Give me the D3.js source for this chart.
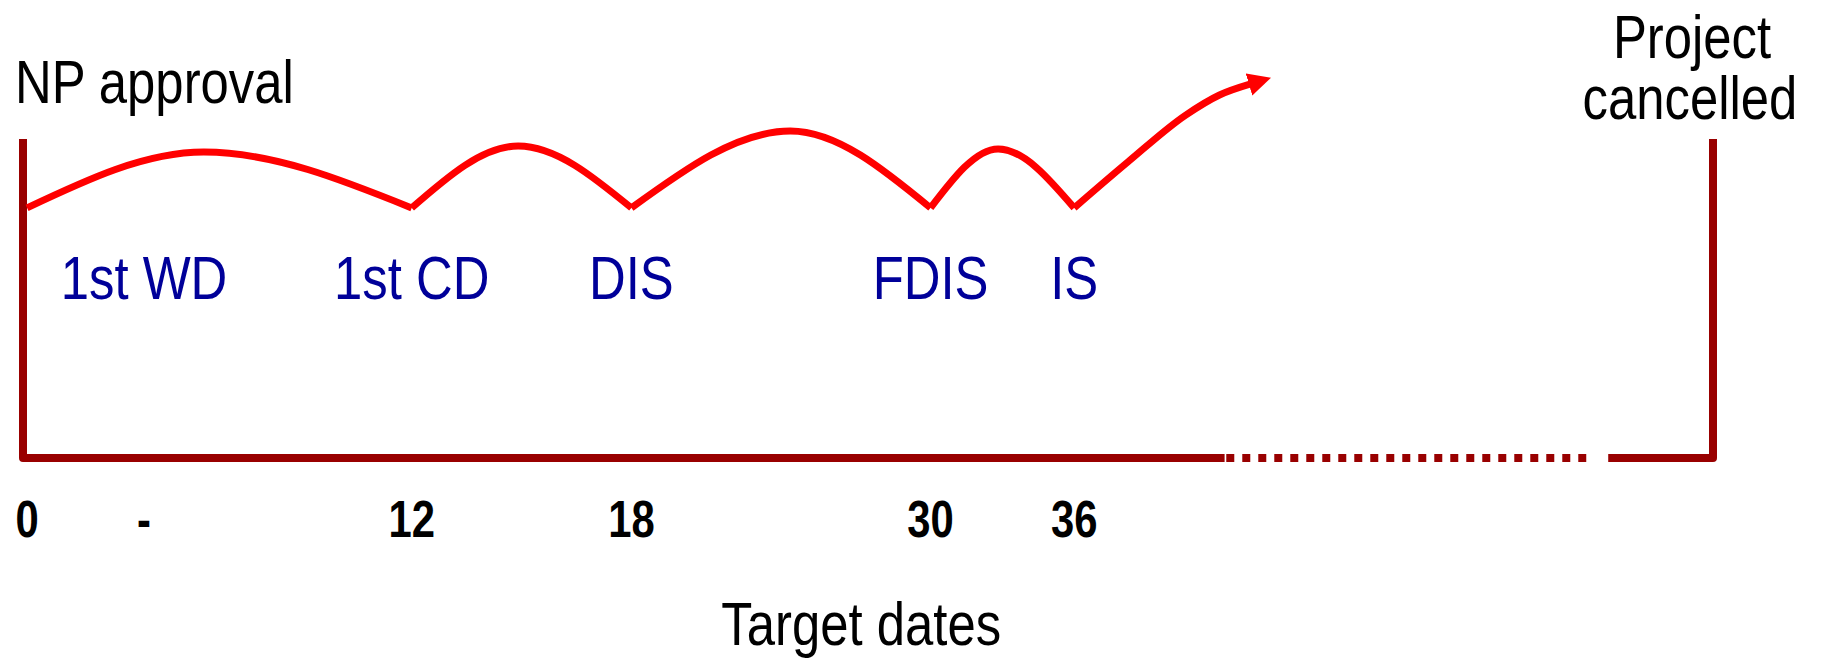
<!DOCTYPE html>
<html>
<head>
<meta charset="utf-8">
<script src="https://cdn.jsdelivr.net/npm/d3@7/dist/d3.min.js"></script>
<style>
    body { margin: 0; background: #fff; }
    text { font-family: "Liberation Sans", Arial, sans-serif; }
</style>
</head>
<body>
<div id="view"></div>
<script>
// milestones along the time line, position in % of the frame width
var tickLabels   = ["0", "-", "12", "18", "30", "36"];
var stageLabels  = ["", "1st WD", "1st CD", "DIS", "FDIS", "IS"];
var milestonePos = [0.24, 7.16, 23.0, 36.0, 53.7, 62.2];

// the wavy path: it drops back to the trough level at each stage
var troughLevel = 78.4;
var troughIdx   = [0, 2, 3, 4, 5];          // milestones where the path touches down
var peakPos     = [10.7, 29.3, 45.4, 57.7];
var peakLevel   = [95.9, 97.8, 102.5, 96.9];

// the open end after IS, heading off to the arrow
var tailPos   = [62.2, 65.4, 68.8, 70.8, 72.6];
var tailLevel = [78.4, 92.9, 107.5, 113.8, 117.2];

// bottom line: solid, dotted, gap, solid
var solidEnd = 71.1, dotStart = 71.2, dotEnd = 92.5, solidStart = 93.8;

var svgwidth = 1821, svgheight = 659;
var frameColor = "#990000", pathColor = "#ff0000", stageColor = "#000099";
var narrow = 0.82;   // no Arial Narrow here, so squeeze Liberation Sans

var svg = d3.select("#view")
    .append("svg")
    .attr("width", svgwidth)
    .attr("height", svgheight);

var x = d3.scaleLinear().domain([0, 100]).range([23, 1713]);
var y = d3.scaleLinear().domain([0, 100]).range([458, 139]);

var line = d3.line()
    .x(function(d) { return x(d[0]); })
    .y(function(d) { return y(d[1]); });

function place(px, py) {
    return "translate(" + px + "," + py + ") scale(" + narrow + ",1)";
}

// frame
svg.append("path")
    .attr("d", line([[0, 100], [0, 0], [solidEnd, 0]]))
    .attr("fill", "none")
    .attr("stroke", frameColor)
    .attr("stroke-width", 8)
    .attr("stroke-linejoin", "round");

svg.append("path")
    .attr("d", line([[dotStart, 0], [dotEnd, 0]]))
    .attr("fill", "none")
    .attr("stroke", frameColor)
    .attr("stroke-width", 8)
    .attr("stroke-dasharray", "8,8");

svg.append("path")
    .attr("d", line([[solidStart, 0], [100, 0], [100, 100]]))
    .attr("fill", "none")
    .attr("stroke", frameColor)
    .attr("stroke-width", 8)
    .attr("stroke-linejoin", "round");

// arrow head
svg.append("defs").append("marker")
    .attr("id", "arrow")
    .attr("markerUnits", "userSpaceOnUse")
    .attr("viewBox", "0 -12 24 24")
    .attr("refX", 1)
    .attr("refY", 0)
    .attr("markerWidth", 24)
    .attr("markerHeight", 24)
    .attr("orient", "auto")
    .append("path")
    .attr("d", "M0,-11.5L23,0L0,11.5Z")
    .attr("fill", pathColor);

// humps between consecutive touch-down points
var humpLine = d3.line()
    .x(function(d) { return x(d[0]); })
    .y(function(d) { return y(d[1]); })
    .curve(d3.curveMonotoneX);

var humps = peakPos.map(function(p, i) {
    return [[milestonePos[troughIdx[i]], troughLevel],
            [p, peakLevel[i]],
            [milestonePos[troughIdx[i + 1]], troughLevel]];
});

svg.append("g").selectAll(".hump")
    .data(humps)
    .enter().append("path")
    .attr("class", "hump")
    .attr("d", humpLine)
    .attr("fill", "none")
    .attr("stroke", pathColor)
    .attr("stroke-width", 7);

svg.append("path")
    .attr("d", humpLine(tailPos.map(function(p, i) { return [p, tailLevel[i]]; })))
    .attr("fill", "none")
    .attr("stroke", pathColor)
    .attr("stroke-width", 7)
    .attr("marker-end", "url(#arrow)");

// stage names
svg.append("g").selectAll(".stage")
    .data(stageLabels)
    .enter().append("text")
    .attr("class", "stage")
    .attr("transform", function(d, i) { return place(x(milestonePos[i]), 299); })
    .attr("text-anchor", "middle")
    .attr("fill", stageColor)
    .style("font-size", "62px")
    .text(function(d) { return d; });

// target date ticks
svg.append("g").selectAll(".tick")
    .data(tickLabels)
    .enter().append("text")
    .attr("class", "tick")
    .attr("transform", function(d, i) { return place(x(milestonePos[i]), 537); })
    .attr("text-anchor", "middle")
    .style("font-size", "51px")
    .style("font-weight", "bold")
    .text(function(d) { return d; });

svg.append("text")
    .attr("transform", place(x(49.6), 645))
    .attr("text-anchor", "middle")
    .style("font-size", "62px")
    .text("Target dates");

svg.append("text")
    .attr("transform", place(15, 103))
    .style("font-size", "62px")
    .text("NP approval");

svg.append("text")
    .attr("transform", place(1692, 58))
    .attr("text-anchor", "middle")
    .style("font-size", "62px")
    .text("Project");

svg.append("text")
    .attr("transform", place(1690, 119))
    .attr("text-anchor", "middle")
    .style("font-size", "62px")
    .text("cancelled");
</script>
</body>
</html>
